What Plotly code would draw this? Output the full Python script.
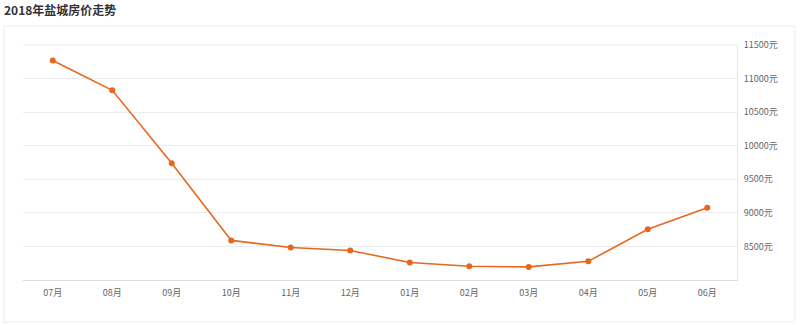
import plotly.graph_objects as go

months = ["07月", "08月", "09月", "10月", "11月", "12月", "01月", "02月", "03月", "04月", "05月", "06月"]
prices = [11270, 10825, 9740, 8590, 8485, 8440, 8260, 8205, 8195, 8278, 8755, 9075]
y_ticks = [8500, 9000, 9500, 10000, 10500, 11000, 11500]
y_tick_labels = [f"{v}元" for v in y_ticks]
title = "2018年盐城房价走势"

font_family = "Noto Sans CJK SC, Noto Sans, sans-serif"

fig = go.Figure()
fig.add_trace(go.Scatter(
    x=months, y=prices, mode="lines+markers",
    line=dict(color="#e8671e", width=1.6),
    marker=dict(color="#e8671e", size=6),
    hoverinfo="x+y",
))

fig.update_layout(
    width=800, height=325,
    margin=dict(l=23, r=63, t=45, b=45),
    paper_bgcolor="white", plot_bgcolor="white",
    showlegend=False,
    font=dict(family=font_family, size=9, color="#666"),
    xaxis=dict(
        type="category", range=[-0.5, 11.5],
        showgrid=False, showline=True, linecolor="#dcdcdc", linewidth=1,
        ticks="outside", ticklen=4, tickcolor="rgba(0,0,0,0)",
        tickfont=dict(size=9, color="#666"), zeroline=False, fixedrange=True,
    ),
    yaxis=dict(
        side="right", range=[8000, 11500],
        tickvals=y_ticks, ticktext=y_tick_labels,
        showgrid=True, gridcolor="#ebebeb", gridwidth=1,
        showline=True, linecolor="#e6e6e6", linewidth=1, mirror=False,
        ticks="outside", ticklen=4, tickcolor="rgba(0,0,0,0)",
        tickfont=dict(size=9, color="#666"), zeroline=False, fixedrange=True,
    ),
    shapes=[
        dict(type="rect", xref="paper", yref="paper",
             x0=-19/714, x1=772/714, y0=-42/235, y1=254/235,
             line=dict(color="#ececec", width=1), fillcolor="rgba(0,0,0,0)", layer="below"),
        dict(type="line", xref="paper", yref="paper",
             x0=0, x1=1, y0=1, y1=1, line=dict(color="#ebebeb", width=1)),
    ],
    annotations=[
        dict(text=title, xref="paper", yref="paper", x=-21/714, y=(280 - 10) / 235,
             xanchor="left", yanchor="middle", showarrow=False,
             font=dict(family=font_family, size=12, color="#333", weight="bold")),
    ],
)

fig.write_html("out.html")
